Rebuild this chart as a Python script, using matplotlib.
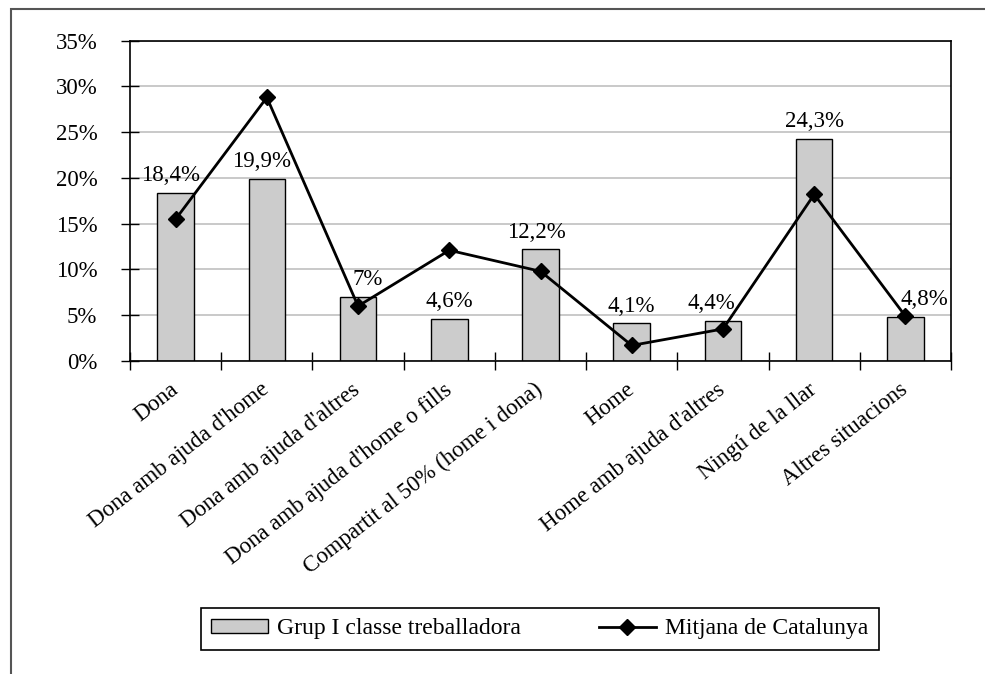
import matplotlib
matplotlib.use("Agg")
import matplotlib.pyplot as plt
from matplotlib.patches import Rectangle
from matplotlib.ticker import MultipleLocator, FuncFormatter, FixedLocator

categories = ["Dona", "Dona amb ajuda d'home", "Dona amb ajuda d'altres",
              "Dona amb ajuda d'home o fills", "Compartit al 50% (home i dona)",
              "Home", "Home amb ajuda d'altres", "Ningú de la llar", "Altres situacions"]
grup_treball = [18.4, 19.9, 7.0, 4.6, 12.2, 4.1, 4.4, 24.3, 4.8]
bar_labels = ["18,4%", "19,9%", "7%", "4,6%", "12,2%", "4,1%", "4,4%", "24,3%", "4,8%"]
mitjana_cat = [15.5, 28.8, 6.0, 12.1, 9.8, 1.7, 3.5, 18.2, 4.9]

# horizontal nudges (points) for the value labels, as in the original layout
label_dx = [-4, -4, 7, 0, -3, 0, -8, 0, 14]

plt.rcParams['font.family'] = ['Liberation Serif', 'DejaVu Serif']
plt.rcParams['font.size'] = 16.5

fig = plt.figure(figsize=(9.85, 6.74), dpi=100)
ax = fig.add_axes([0.132, 0.4644, 0.8335, 0.4752])

x = list(range(len(categories)))
bars = ax.bar(x, grup_treball, width=0.4, color='#cccccc', edgecolor='black', linewidth=1,
              label='Grup I classe treballadora', zorder=2)
line, = ax.plot(x, mitjana_cat, color='black', linewidth=2, marker='D', markersize=8,
                label='Mitjana de Catalunya', zorder=3)

for xi, v, lab, dx in zip(x, grup_treball, bar_labels, label_dx):
    ax.annotate(lab, (xi, v), xytext=(dx, 8.5), textcoords='offset points',
                ha='center', va='baseline', zorder=4)

ax.set_xlim(-0.5, len(categories) - 0.5)
ax.set_ylim(0, 35)
ax.yaxis.set_major_locator(MultipleLocator(5))
ax.yaxis.set_major_formatter(FuncFormatter(lambda v, p: f"{v:.0f}%"))
ax.yaxis.grid(True, color='#c0c0c0', linewidth=1.2, zorder=0)
ax.set_axisbelow(True)

# ticks between categories, labels at category centres
ax.xaxis.set_major_locator(FixedLocator([i - 0.5 for i in range(len(categories) + 1)]))
ax.xaxis.set_major_formatter(FuncFormatter(lambda v, p: ""))
ax.xaxis.set_minor_locator(FixedLocator(x))
ax.set_xticklabels(categories, minor=True, rotation=38, ha='right', va='center',
                   rotation_mode='anchor')
ax.tick_params(axis='x', which='major', direction='inout', length=13, width=1)
ax.tick_params(axis='x', which='minor', length=0, pad=19)
ax.tick_params(axis='y', direction='inout', length=13, width=1, pad=17)

for s in ax.spines.values():
    s.set_linewidth(1.2)
    s.set_color('black')

leg = fig.legend([bars, line], ['Grup I classe treballadora', 'Mitjana de Catalunya'],
                 loc='center', bbox_to_anchor=(0.548, 0.0668), ncol=2, frameon=True,
                 fancybox=False, edgecolor='black', framealpha=1, handlelength=2.4,
                 handleheight=0.55, handletextpad=0.4, columnspacing=3.3,
                 borderpad=0.45, fontsize=17)
leg.get_frame().set_linewidth(1.2)

# outer frame of the original figure (cut at right and bottom)
fig.patches.append(Rectangle((0.011, -0.1), 1.2, 1.086, transform=fig.transFigure,
                             fill=False, edgecolor='#555555', linewidth=1.5))

fig.savefig("out.png", dpi=100)
